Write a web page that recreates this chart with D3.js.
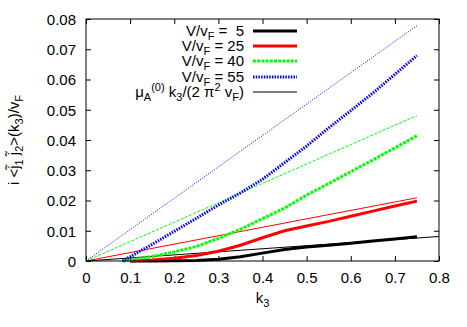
<!DOCTYPE html>
<html>
<head>
<meta charset="utf-8">
<script src="https://cdn.jsdelivr.net/npm/d3@7"></script>
<style>
  body { margin: 0; background: #fff; }
  text { font-family: "Liberation Sans", Arial, sans-serif; font-size: 15px; fill: #000; }
</style>
</head>
<body>
<svg width="467" height="327"></svg>
<script>
// data
var kBlack = [0.1, 0.15, 0.2, 0.25, 0.3, 0.35, 0.4, 0.45, 0.5, 0.55, 0.6, 0.65, 0.7, 0.75];
var vBlack = [0, 0, 0.0001, 0.0002, 0.0006, 0.0014, 0.0026, 0.0038, 0.0046, 0.0052, 0.0059, 0.0066, 0.0073, 0.008];
var kRed = [0.1, 0.15, 0.2, 0.25, 0.3, 0.35, 0.4, 0.45, 0.5, 0.55, 0.6, 0.65, 0.7, 0.75];
var vRed = [0, 0.0003, 0.0009, 0.0018, 0.0032, 0.0052, 0.0077, 0.0100, 0.0116, 0.0131, 0.0148, 0.0165, 0.0182, 0.0198];
var kGreen = [0.083, 0.1, 0.15, 0.2, 0.25, 0.3, 0.35, 0.4, 0.45, 0.5, 0.55, 0.6, 0.65, 0.7, 0.75];
var vGreen = [0, 0.0003, 0.0015, 0.003, 0.0048, 0.0075, 0.0105, 0.014, 0.0175, 0.0218, 0.0256, 0.0295, 0.0334, 0.0374, 0.0414];
var kBlue = [0.083, 0.1, 0.15, 0.2, 0.25, 0.3, 0.35, 0.4, 0.45, 0.5, 0.55, 0.6, 0.65, 0.7, 0.75];
var vBlue = [0, 0.0014, 0.0055, 0.0098, 0.0141, 0.0185, 0.0225, 0.027, 0.0325, 0.038, 0.044, 0.0497, 0.0555, 0.0617, 0.0679];

// thin reference lines (end points)
var kThin = [0, 0.75];
var kThinBlack = [0, 0.8];
var vThinBlack = [0, 0.0081];
var vThinRed = [0, 0.0209];
var vThinGreen = [0, 0.0481];
var vThinBlue = [0, 0.0778];

var xTicks = [0, 0.1, 0.2, 0.3, 0.4, 0.5, 0.6, 0.7, 0.8];
var yTicks = [0, 0.01, 0.02, 0.03, 0.04, 0.05, 0.06, 0.07, 0.08];
var legendVals = [" 5", "25", "40", "55"];

var svg = d3.select("svg");
var margin = { left: 86, right: 28, top: 19, bottom: 66 };
var width = +svg.attr("width") - margin.left - margin.right;
var height = +svg.attr("height") - margin.top - margin.bottom;

var x = d3.scaleLinear().domain([0, 0.8]).range([margin.left, margin.left + width]);
var y = d3.scaleLinear().domain([0, 0.08]).range([margin.top + height, margin.top]);

function zip(ks, vs) {
  return ks.map(function(k, i) { return [k, vs[i]]; });
}

var line = d3.line()
  .x(function(d) { return x(d[0]); })
  .y(function(d) { return y(d[1]); });

// axes with inward ticks, mirrored
var tickLen = 5;
svg.append("g")
  .attr("transform", "translate(0," + (margin.top + height) + ")")
  .call(d3.axisBottom(x).tickValues(xTicks).tickSizeInner(-tickLen).tickSizeOuter(0)
    .tickFormat(function(d) { return d === 0 ? "0" : d3.format(".1f")(d); }))
  .call(function(g) {
    g.select(".domain").remove();
    g.selectAll("text").attr("dy", 0).attr("y", 22).style("font-size", "15px").style("font-family", null);
  });
svg.append("g")
  .attr("transform", "translate(0," + margin.top + ")")
  .call(d3.axisTop(x).tickValues(xTicks).tickSizeInner(-tickLen).tickSizeOuter(0).tickFormat(""))
  .call(function(g) { g.select(".domain").remove(); });
svg.append("g")
  .attr("transform", "translate(" + margin.left + ",0)")
  .call(d3.axisLeft(y).tickValues(yTicks).tickSizeInner(-tickLen).tickSizeOuter(0)
    .tickFormat(function(d) { return d === 0 ? "0" : d3.format(".2f")(d); }))
  .call(function(g) {
    g.select(".domain").remove();
    g.selectAll("text").attr("x", -10).attr("dy", "0.35em").style("font-size", "15px").style("font-family", null);
  });
svg.append("g")
  .attr("transform", "translate(" + (margin.left + width) + ",0)")
  .call(d3.axisRight(y).tickValues(yTicks).tickSizeInner(-tickLen).tickSizeOuter(0).tickFormat(""))
  .call(function(g) { g.select(".domain").remove(); });

svg.selectAll(".tick line").attr("stroke", "#000");

// thin lines
var thin = [
  { d: zip(kThinBlack, vThinBlack), c: "#000000", dash: null },
  { d: zip(kThin, vThinRed), c: "#ff0000", dash: null },
  { d: zip(kThin, vThinGreen), c: "#00ff00", dash: "3,1.5" },
  { d: zip(kThin, vThinBlue), c: "#0000ff", dash: "1,1.5" }
];
svg.append("g").selectAll("path")
  .data(thin)
  .enter()
  .append("path")
  .attr("d", function(s) { return line(s.d); })
  .attr("fill", "none")
  .attr("stroke", function(s) { return s.c; })
  .attr("stroke-width", 1)
  .attr("stroke-dasharray", function(s) { return s.dash; });

// thick curves
var thick = [
  { d: zip(kBlack, vBlack), c: "#000000", dash: null },
  { d: zip(kRed, vRed), c: "#ff0000", dash: null },
  { d: zip(kGreen, vGreen), c: "#00ff00", dash: "3,1.2" },
  { d: zip(kBlue, vBlue), c: "#0000ff", dash: "1.5,1.2" }
];
svg.append("g").selectAll("path")
  .data(thick)
  .enter()
  .append("path")
  .attr("d", function(s) { return line(s.d); })
  .attr("fill", "none")
  .attr("stroke", function(s) { return s.c; })
  .attr("stroke-width", 3)
  .attr("stroke-dasharray", function(s) { return s.dash; });

// border
svg.append("rect")
  .attr("x", margin.left).attr("y", margin.top)
  .attr("width", width).attr("height", height)
  .attr("fill", "none").attr("stroke", "#000").attr("stroke-width", 1);

// legend
var legX = 244, legY = [31, 46, 61, 77, 92];
var leg = svg.append("g");
thick.forEach(function(s, i) {
  var t = leg.append("text").attr("x", legX).attr("y", legY[i]).attr("dy", "0.35em").attr("text-anchor", "end");
  t.append("tspan").text("V/v");
  t.append("tspan").attr("dy", 4).style("font-size", "11px").text("F");
  t.append("tspan").attr("dy", -4).attr("xml:space", "preserve").style("white-space", "pre").text(" = " + legendVals[i]);
  leg.append("line")
    .attr("x1", 253).attr("x2", 297).attr("y1", legY[i]).attr("y2", legY[i])
    .attr("stroke", s.c).attr("stroke-width", 3).attr("stroke-dasharray", s.dash);
});
var t5 = leg.append("text").attr("x", legX).attr("y", legY[4]).attr("dy", "0.35em").attr("text-anchor", "end");
t5.append("tspan").text("\u03bc");
t5.append("tspan").attr("dy", 4).style("font-size", "11px").text("A");
t5.append("tspan").attr("dy", -10).style("font-size", "11px").text("(0)");
t5.append("tspan").attr("dy", 6).text(" k");
t5.append("tspan").attr("dy", 4).style("font-size", "11px").text("3");
t5.append("tspan").attr("dy", -4).text("/(2 \u03c0");
t5.append("tspan").attr("dy", -6).style("font-size", "11px").text("2");
t5.append("tspan").attr("dy", 6).text(" v");
t5.append("tspan").attr("dy", 4).style("font-size", "11px").text("F");
t5.append("tspan").attr("dy", -4).text(")");
leg.append("line")
  .attr("x1", 253).attr("x2", 297).attr("y1", legY[4]).attr("y2", legY[4])
  .attr("stroke", "#000").attr("stroke-width", 1);

// axis titles
var xt = svg.append("text").attr("x", x(0.4)).attr("y", 303).attr("text-anchor", "middle");
xt.append("tspan").text("k");
xt.append("tspan").attr("dy", 4).style("font-size", "11px").text("3");

var yt = svg.append("text")
  .attr("transform", "translate(19," + (margin.top + height / 2) + ") rotate(-90)")
  .attr("text-anchor", "middle");
yt.append("tspan").text("i <j\u0303");
yt.append("tspan").attr("dy", 4).style("font-size", "11px").text("1");
yt.append("tspan").attr("dy", -4).text(" j\u0303");
yt.append("tspan").attr("dy", 4).style("font-size", "11px").text("2");
yt.append("tspan").attr("dy", -4).text(">(k");
yt.append("tspan").attr("dy", 4).style("font-size", "11px").text("3");
yt.append("tspan").attr("dy", -4).text(")/v");
yt.append("tspan").attr("dy", 4).style("font-size", "11px").text("F");
</script>
</body>
</html>
